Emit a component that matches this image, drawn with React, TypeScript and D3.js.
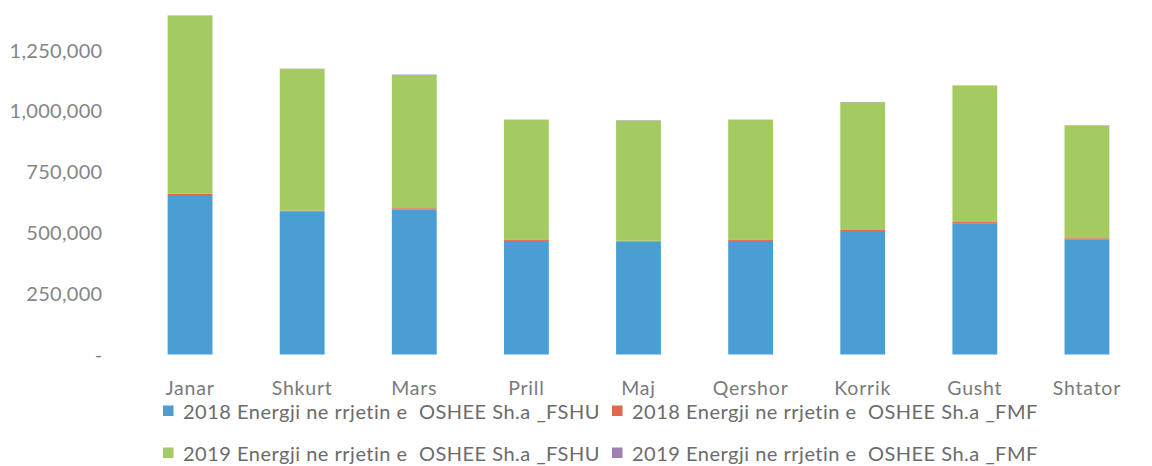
import React from "react";
import * as d3 from "d3";

const months = ["Janar", "Shkurt", "Mars", "Prill", "Maj", "Qershor", "Korrik", "Gusht", "Shtator"];
const fshu2018 = [656000, 587000, 597000, 467000, 464000, 467000, 508000, 540000, 474000];
const fmf2018 = [4500, 4500, 4500, 4000, 4000, 4000, 4000, 4500, 4000];
const fshu2019 = [732000, 582000, 548000, 493000, 494000, 493000, 525000, 560000, 463000];
const fmf2019 = [1500, 1500, 1500, 1500, 1500, 1500, 1500, 1500, 1500];
const seriesNames = [
  "2018 Energji ne rrjetin e  OSHEE Sh.a _FSHU",
  "2018 Energji ne rrjetin e  OSHEE Sh.a _FMF",
  "2019 Energji ne rrjetin e  OSHEE Sh.a _FSHU",
  "2019 Energji ne rrjetin e  OSHEE Sh.a _FMF",
];
const colors = ["#4A9ED4", "#E0684B", "#A3CB62", "#9C82B0"];
const yTicks = [0, 250000, 500000, 750000, 1000000, 1250000];

const W = 1152;
const H = 466;
const font = "Lato, 'Open Sans', sans-serif";

const App = () => {
  const keys = ["a", "b", "c", "d"];
  const rows = months.map((m, i) => ({
    month: m,
    a: fshu2018[i],
    b: fmf2018[i],
    c: fshu2019[i],
    d: fmf2019[i],
  }));
  const stack = d3.stack<any>().keys(keys)(rows);

  const x = d3.scaleBand().domain(months).range([134, 1143]).paddingInner(0.6).paddingOuter(0.3);
  const y = d3.scaleLinear().domain([0, 1250000]).range([354.5, 50.5]);
  const fmt = d3.format(",");

  return (
    <div style={{ position: "absolute", left: 0, top: 0 }}>
      <svg width={W} height={H} style={{ display: "block", background: "#fff" }}>
        {yTicks.map(t => (
          <text
            key={t}
            x={102.5}
            y={y(t)}
            dy="0.35em"
            textAnchor="end"
            fill="#858585"
            fontFamily={font}
            fontSize={20}
            letterSpacing={0.3}
          >
            {t === 0 ? "-" : fmt(t)}
          </text>
        ))}
        {stack.map((s, si) => (
          <g key={si} fill={colors[si]}>
            {s.map((d, i) => (
              <rect
                key={i}
                x={x(months[i])}
                width={x.bandwidth()}
                y={y(d[1])}
                height={y(d[0]) - y(d[1])}
              />
            ))}
          </g>
        ))}
        {months.map(m => (
          <text
            key={m}
            x={(x(m) as number) + x.bandwidth() / 2}
            y={388}
            dy="0.35em"
            textAnchor="middle"
            fill="#7a7a7a"
            fontFamily={font}
            fontSize={19.5}
            letterSpacing={0.8}
          >
            {m}
          </text>
        ))}
        {seriesNames.map((name, i) => {
          const lx = i % 2 === 0 ? 163 : 612;
          const ly = i < 2 ? 411 : 453;
          return (
            <g key={name}>
              <rect x={lx} y={ly - 5.5} width={10.5} height={10.5} fill={colors[i]} />
              <text
                x={lx + 20}
                y={ly + 1}
                dy="0.35em"
                fill="#6b6b6b"
                fontFamily={font}
                fontSize={20}
                letterSpacing={0.5}
                style={{ whiteSpace: "pre" }}
              >
                {name}
              </text>
            </g>
          );
        })}
      </svg>
    </div>
  );
};

export default App;
